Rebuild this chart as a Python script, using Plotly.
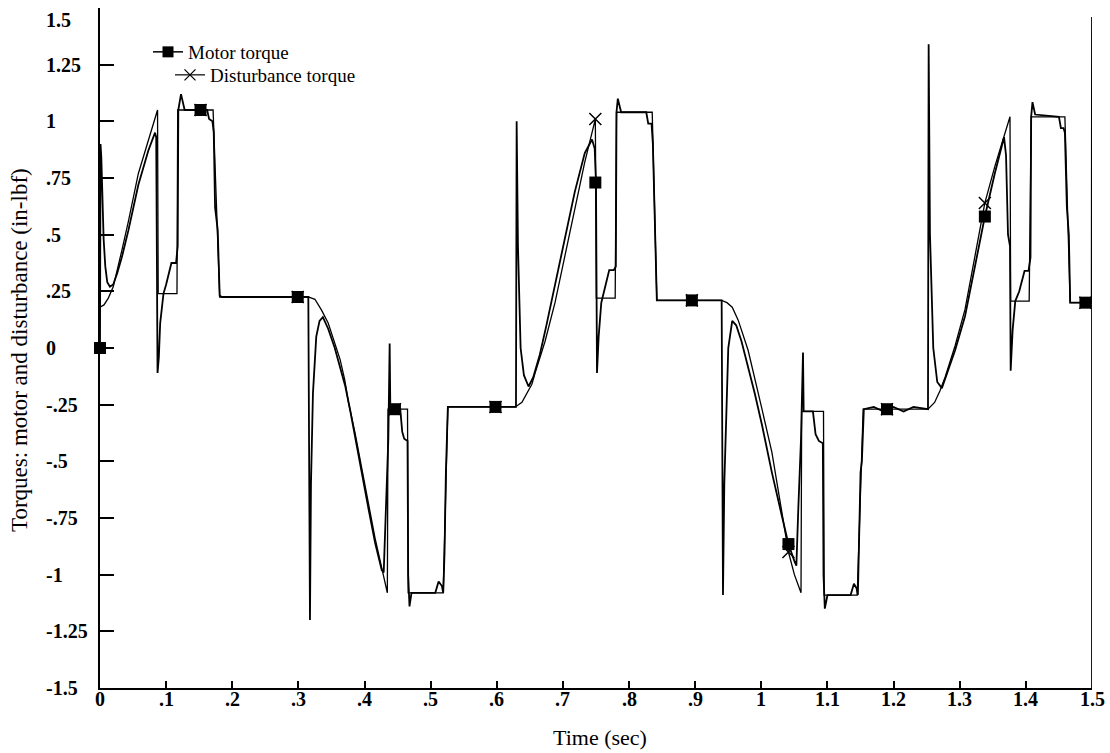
import plotly.graph_objects as go

# ---------------- data ----------------
dist_t = [0.000, 0.006, 0.0126, 0.020, 0.033, 0.043, 0.058, 0.073, 0.087,
          0.088, 0.1164, 0.1175, 0.171, 0.181, 0.315,
          0.325, 0.335, 0.345, 0.355, 0.363, 0.370, 0.3755, 0.386, 0.3957, 0.406, 0.416, 0.426, 0.4345,
          0.4355, 0.465, 0.466, 0.519, 0.526, 0.628,
          0.638, 0.646, 0.653, 0.658, 0.673, 0.688, 0.703, 0.718, 0.733, 0.749,
          0.7505, 0.779, 0.781, 0.835, 0.842, 0.940,
          0.948, 0.956, 0.965, 0.980, 0.990, 1.001, 1.016, 1.031, 1.041, 1.050, 1.060,
          1.061, 1.094, 1.095, 1.145, 1.154, 1.252,
          1.262, 1.270, 1.278, 1.293, 1.308, 1.323, 1.338, 1.353, 1.366, 1.376,
          1.377, 1.405, 1.408, 1.459, 1.467, 1.500]
dist_y = [0.18, 0.19, 0.22, 0.27, 0.43, 0.56, 0.77, 0.92, 1.05,
          0.24, 0.24, 1.05, 1.05, 0.225, 0.225,
          0.215, 0.167, 0.11, 0.02, -0.05, -0.14, -0.237, -0.38, -0.53, -0.68, -0.84, -0.97, -1.08,
          -0.27, -0.27, -1.08, -1.08, -0.26, -0.26,
          -0.24, -0.20, -0.16, -0.11, 0.03, 0.20, 0.41, 0.62, 0.82, 1.01,
          0.22, 0.22, 1.04, 1.04, 0.21, 0.21,
          0.20, 0.18, 0.123, -0.01, -0.14, -0.27, -0.46, -0.73, -0.90, -1.00, -1.08,
          -0.28, -0.28, -1.09, -1.09, -0.27, -0.27,
          -0.24, -0.19, -0.128, 0.01, 0.17, 0.40, 0.64, 0.80, 0.92, 1.02,
          0.207, 0.207, 1.02, 1.02, 0.20, 0.20]

motor_t = [0.0000, 0.0008, 0.0020, 0.0035, 0.0055, 0.0080, 0.0110, 0.0150, 0.0200, 0.0260,
           0.0330, 0.0430, 0.0580, 0.0730, 0.0832, 0.0850, 0.0860, 0.0870, 0.0890, 0.0910,
           0.0960, 0.1000, 0.1080, 0.1150, 0.1175, 0.1184, 0.1225, 0.1280, 0.1620, 0.1650,
           0.1700, 0.1720, 0.1740, 0.1780, 0.1810, 0.1850, 0.3150, 0.3160, 0.3175, 0.3190,
           0.3220, 0.3270, 0.3320, 0.3370, 0.3450, 0.3550, 0.3630, 0.3710, 0.3780, 0.3860,
           0.3960, 0.4060, 0.4160, 0.4260, 0.4290, 0.4320, 0.4360, 0.4380, 0.4390, 0.4540,
           0.4570, 0.4600, 0.4650, 0.4660, 0.4680, 0.4710, 0.5070, 0.5120, 0.5170, 0.5190,
           0.5210, 0.5230, 0.5260, 0.6290, 0.6300, 0.6320, 0.6360, 0.6410, 0.6480, 0.6550,
           0.6650, 0.6750, 0.6880, 0.7030, 0.7180, 0.7330, 0.7440, 0.7480, 0.7500, 0.7515,
           0.7540, 0.7580, 0.7620, 0.7700, 0.7770, 0.7800, 0.7810, 0.7830, 0.7880, 0.8260,
           0.8290, 0.8340, 0.8360, 0.8390, 0.8420, 0.9400, 0.9410, 0.9420, 0.9440, 0.9470,
           0.9500, 0.9560, 0.9620, 0.9700, 0.9800, 0.9900, 1.0010, 1.0160, 1.0310, 1.0410,
           1.0500, 1.0530, 1.0560, 1.0600, 1.0630, 1.0640, 1.0780, 1.0820, 1.0870, 1.0930,
           1.0940, 1.0960, 1.1000, 1.1350, 1.1400, 1.1440, 1.1460, 1.1480, 1.1500, 1.1520,
           1.1550, 1.1700, 1.1850, 1.2000, 1.2150, 1.2300, 1.2520, 1.2530, 1.2550, 1.2600,
           1.2660, 1.2730, 1.2800, 1.2930, 1.3080, 1.3230, 1.3380, 1.3530, 1.3670, 1.3700,
           1.3730, 1.3760, 1.3770, 1.3800, 1.3840, 1.3900, 1.3980, 1.4040, 1.4070, 1.4080,
           1.4100, 1.4140, 1.4500, 1.4530, 1.4570, 1.4590, 1.4620, 1.4650, 1.4670, 1.4995,
           1.5000, 1.5000]
motor_y = [0.00, 0.90, 0.84, 0.67, 0.48, 0.36, 0.29, 0.27, 0.28, 0.33,
           0.40, 0.52, 0.72, 0.87, 0.95, 0.93, 0.40, -0.11, -0.04, 0.11,
           0.24, 0.28, 0.375, 0.375, 0.45, 1.05, 1.12, 1.05, 1.05, 1.01,
           1.00, 0.95, 0.62, 0.52, 0.23, 0.225, 0.225, -0.40, -1.20, -0.60,
           -0.20, 0.05, 0.12, 0.136, 0.085, 0.00, -0.08, -0.17, -0.27, -0.40,
           -0.56, -0.71, -0.86, -0.98, -0.99, -0.70, -0.40, 0.02, -0.27, -0.27,
           -0.37, -0.40, -0.41, -1.00, -1.14, -1.08, -1.08, -1.03, -1.05, -1.08,
           -0.90, -0.55, -0.26, -0.26, 1.00, 0.45, 0.00, -0.12, -0.17, -0.13,
           -0.03, 0.10, 0.28, 0.48, 0.69, 0.86, 0.92, 0.88, 0.73, -0.11,
           0.05, 0.20, 0.25, 0.344, 0.344, 0.36, 1.04, 1.10, 1.04, 1.04,
           0.99, 0.99, 0.90, 0.55, 0.21, 0.21, -0.30, -1.09, -0.60, -0.25,
           0.00, 0.12, 0.10, 0.03, -0.08, -0.20, -0.34, -0.55, -0.74, -0.865,
           -0.94, -0.96, -0.70, -0.40, -0.02, -0.28, -0.28, -0.38, -0.41, -0.42,
           -1.00, -1.15, -1.09, -1.09, -1.04, -1.06, -1.09, -0.85, -0.55, -0.50,
           -0.27, -0.26, -0.28, -0.26, -0.28, -0.26, -0.27, 1.34, 0.50, 0.00,
           -0.15, -0.177, -0.12, -0.01, 0.14, 0.36, 0.58, 0.77, 0.93, 0.85,
           0.50, 0.45, -0.10, 0.08, 0.207, 0.25, 0.34, 0.34, 0.40, 1.02,
           1.085, 1.03, 1.02, 0.97, 0.97, 0.95, 0.62, 0.50, 0.20, 0.20,
           1.46, -1.50]

motor_marker_t = [0.0, 0.152, 0.299, 0.446, 0.598, 0.749, 0.895, 1.041, 1.190, 1.338, 1.490]
motor_marker_y = [0.0, 1.05, 0.225, -0.27, -0.26, 0.73, 0.21, -0.865, -0.27, 0.58, 0.20]
dist_marker_t = [0.152, 0.299, 0.446, 0.598, 0.749, 0.895, 1.041, 1.190, 1.338, 1.490]
dist_marker_y = [1.05, 0.225, -0.27, -0.26, 1.01, 0.21, -0.90, -0.27, 0.64, 0.20]

x_tick_vals = [0, 0.1, 0.2, 0.3, 0.4, 0.5, 0.6, 0.7, 0.8, 0.9, 1.0, 1.1, 1.2, 1.3, 1.4, 1.5]
x_tick_text = ["0", ".1", ".2", ".3", ".4", ".5", ".6", ".7", ".8", ".9",
               "1", "1.1", "1.2", "1.3", "1.4", "1.5"]
y_tick_vals = [-1.5, -1.25, -1.0, -0.75, -0.5, -0.25, 0, 0.25, 0.5, 0.75, 1.0, 1.25]
y_tick_text = ["-1.5", "-1.25", "-1", "-.75", "-.5", "-.25", "0", ".25", ".5", ".75", "1", "1.25"]
y_top_label = "1.5"

# ---------------- figure ----------------
SERIF = "Liberation Serif, Times New Roman, serif"
W, H = 1110, 753
ML, MR, MT, MB = 100, 18, 8, 65
PW, PH = W - ML - MR, H - MT - MB


def px_x(px):
    return (px - ML) / PW


def px_y(py):
    return (H - MB - py) / PH


TICKFONT = dict(family=SERIF, size=20, color="black", weight="bold")

fig = go.Figure()
fig.add_trace(go.Scatter(x=dist_t, y=dist_y, mode="lines",
                         line=dict(color="black", width=1.3), showlegend=False))
fig.add_trace(go.Scatter(x=motor_t, y=motor_y, mode="lines",
                         line=dict(color="black", width=1.8), showlegend=False))
fig.add_trace(go.Scatter(x=dist_marker_t, y=dist_marker_y, mode="markers", cliponaxis=False,
                         marker=dict(symbol="x-thin", size=12, line=dict(color="black", width=1.5)),
                         showlegend=False))
fig.add_trace(go.Scatter(x=motor_marker_t, y=motor_marker_y, mode="markers", cliponaxis=False,
                         marker=dict(symbol="square", size=12, color="black"),
                         showlegend=False))
# legend entries
fig.add_trace(go.Scatter(x=[None], y=[None], mode="lines+markers", name="Motor torque",
                         line=dict(color="black", width=1.5),
                         marker=dict(symbol="square", size=11, color="black"),
                         legend="legend"))
fig.add_trace(go.Scatter(x=[None], y=[None], mode="lines+markers", name="Disturbance torque",
                         line=dict(color="black", width=1.2),
                         marker=dict(symbol="x-thin", size=11, line=dict(color="black", width=1.3)),
                         legend="legend2"))

annotations = []
for v, t in zip(y_tick_vals, y_tick_text):
    annotations.append(dict(x=px_x(44), xref="paper", y=v, yref="y", text=t,
                            xanchor="left", yanchor="middle", showarrow=False, font=TICKFONT))
annotations.append(dict(x=px_x(44), xref="paper", y=px_y(20), yref="paper", text=y_top_label,
                        xanchor="left", yanchor="middle", showarrow=False, font=TICKFONT))
for v, t in zip(x_tick_vals, x_tick_text):
    annotations.append(dict(x=v, xref="x", y=px_y(699), yref="paper", text=t,
                            xanchor="center", yanchor="middle", showarrow=False, font=TICKFONT))
annotations.append(dict(x=px_x(600), xref="paper", y=px_y(737), yref="paper",
                        text="Time (sec)", xanchor="center", yanchor="middle", showarrow=False,
                        font=dict(family=SERIF, size=22, color="black")))
annotations.append(dict(x=px_x(19), xref="paper", y=px_y(350), yref="paper",
                        text="Torques: motor and disturbance (in-lbf)", textangle=-90,
                        xanchor="center", yanchor="middle", showarrow=False,
                        font=dict(family=SERIF, size=23, color="black")))

fig.update_layout(
    width=W, height=H,
    margin=dict(l=ML, r=MR, t=MT, b=MB, pad=0),
    paper_bgcolor="white", plot_bgcolor="white",
    font=dict(family=SERIF, color="black"),
    annotations=annotations,
    legend=dict(x=px_x(148), y=px_y(33), xanchor="left", yanchor="top",
                bgcolor="rgba(0,0,0,0)", font=dict(family=SERIF, size=19, color="black")),
    legend2=dict(x=px_x(170), y=px_y(56), xanchor="left", yanchor="top",
                 bgcolor="rgba(0,0,0,0)", font=dict(family=SERIF, size=19, color="black")),
    xaxis=dict(range=[0, 1.5], tickvals=x_tick_vals, showticklabels=False,
               ticks="inside", ticklen=7, tickwidth=1.5, tickcolor="black",
               showline=True, linewidth=2, linecolor="black",
               showgrid=False, zeroline=False),
    yaxis=dict(range=[-1.5, 1.5], tickvals=y_tick_vals, showticklabels=False,
               ticks="inside", ticklen=14, tickwidth=1.5, tickcolor="black",
               showline=True, linewidth=2, linecolor="black",
               showgrid=False, zeroline=False),
)

fig.write_html("out.html")
